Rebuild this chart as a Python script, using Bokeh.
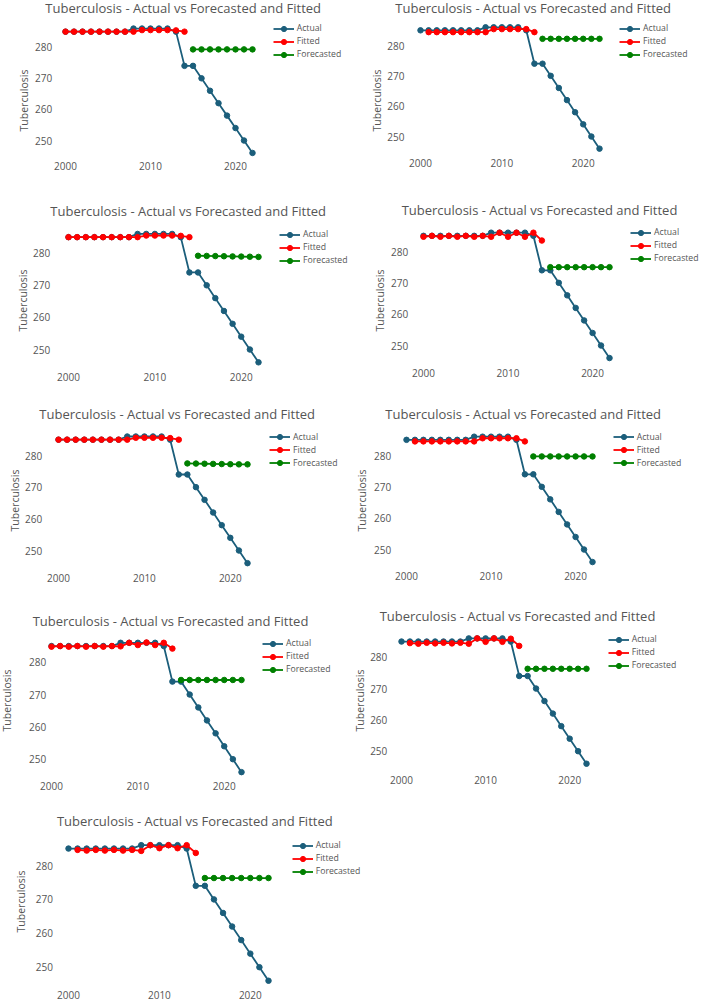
from bokeh.plotting import figure
from bokeh.layouts import column, row
from bokeh.models import FixedTicker, Legend, LegendItem, Range1d, Label
from bokeh.embed import file_html
from bokeh.resources import INLINE

# ---------------- data ----------------
years = list(range(2000, 2023))
actual = [285, 285, 285, 285, 285, 285, 285, 285,
          286, 286, 286, 286, 286,
          285, 274, 274, 270, 266, 262, 258, 254, 250, 246]

fit_years_a = list(range(2000, 2015))
fit_years_b = list(range(2001, 2015))
fc_years = list(range(2015, 2023))

fitted_1 = [285, 285, 285, 285, 285, 285, 285, 285, 285, 285.5, 285.5, 285.5, 285.5, 285.4, 285.0]
fitted_2 = [284.4, 284.4, 284.4, 284.4, 284.4, 284.4, 284.4, 284.4, 285.4, 285.4, 285.4, 285.4, 285.4, 284.4]
fitted_3 = [285, 285, 285, 285, 285, 285, 285, 285, 285, 285.5, 285.5, 285.5, 285.5, 285.4, 285.0]
fitted_4 = [284.7, 285.0, 284.7, 285.0, 284.7, 285.0, 284.7, 285.0, 284.7, 286.0, 284.7, 286.0, 284.7, 286.0, 283.5]
fitted_5 = [285, 285, 285, 285, 285, 285, 285, 285, 285, 285.6, 285.6, 285.6, 285.6, 285.5, 285.0]
fitted_6 = [284.5, 284.5, 284.5, 284.5, 284.5, 284.5, 284.5, 284.5, 285.5, 285.5, 285.5, 285.5, 285.5, 284.5]
fitted_7 = [284.8, 285.0, 284.8, 285.0, 284.8, 285.0, 284.8, 285.0, 284.9, 286.0, 285.3, 286.1, 285.3, 286.0, 284.2]
fitted_8 = [284.5, 284.3, 284.6, 284.4, 284.6, 284.4, 284.6, 284.3, 286.0, 284.9, 286.0, 284.9, 285.9, 283.6]
fitted_9 = [284.6, 284.4, 284.6, 284.4, 284.6, 284.4, 284.6, 284.3, 286.0, 285.1, 286.0, 285.1, 286.0, 283.7]

forecast_1 = [279.3] * 8
forecast_2 = [282.2] * 8
forecast_3 = [279.2, 279.15, 279.1, 279.05, 279.0, 278.95, 278.9, 278.85]
forecast_4 = [275.0] * 8
forecast_5 = [277.5, 277.45, 277.4, 277.35, 277.3, 277.25, 277.2, 277.2]
forecast_6 = [279.7] * 8
forecast_7 = [274.5] * 8
forecast_8 = [276.3] * 8
forecast_9 = [276.3] * 8

fitted_sets = [(fit_years_a, fitted_1), (fit_years_b, fitted_2), (fit_years_a, fitted_3),
               (fit_years_a, fitted_4), (fit_years_a, fitted_5), (fit_years_b, fitted_6),
               (fit_years_a, fitted_7), (fit_years_b, fitted_8), (fit_years_b, fitted_9)]
forecasts = [forecast_1, forecast_2, forecast_3, forecast_4, forecast_5,
             forecast_6, forecast_7, forecast_8, forecast_9]

title_text = "Tuberculosis - Actual vs Forecasted and Fitted"
y_title = "Tuberculosis"
x_ticks = [2000, 2010, 2020]
y_ticks = [250, 260, 270, 280]
labels = ["Actual", "Fitted", "Forecasted"]

# ---------------- layout (page pixel measurements) ----------------
cells = [(0, 0), (351, 0), (0, 200), (351, 200), (0, 400), (351, 400), (0, 600), (351, 600), (0, 800)]
cell_w = [351, 351, 351, 351, 351, 351, 351, 351, 400]
cell_h = [200, 200, 200, 200, 200, 200, 200, 200, 202]
px2000 = [65, 420, 68, 423, 58, 406, 51, 401, 68]
px2022 = [252, 599, 258, 609, 247, 592, 241, 586, 268]
py280 = [46.7, 45, 252.7, 251, 455, 455, 661.7, 656.7, 865]
py250 = [140, 136, 349, 345, 550, 549, 758.7, 750.7, 966.7]
tick_right = [52, 404, 50, 408, 42, 391, 46, 387, 52]
ylab_cx = [25, 379, 24, 381, 17, 363, 8, 361, 22]
xlab_cy = [168, 164, 378.3, 375, 580, 578, 788, 781.7, 996.7]
title_cx = [182.7, 532.7, 187.7, 539, 176.7, 522.7, 170, 517, 194.3]
title_cy = [7.5, 7.5, 210.7, 209.3, 413.3, 413, 620, 615.7, 820.7]
leg_x = [272.7, 619, 279, 630, 269, 612.7, 262, 607.7, 291.7]
leg_y = [28.3, 28.3, 234, 232, 436.7, 436.7, 643, 639, 845]

AX_X = 1999.5   # data x where the (invisible) y axis line sits
AX_Y = 245.0    # data y where the (invisible) x axis line sits
FONT = "Open Sans"
TXT = "#555555"
C_ACT = "#1b5e7b"
C_FIT = "#ff0000"
C_FC = "#008000"

TICK_FS = 10
TICK_W = 17
LAB_FS = 10.5
LAB_HALF = 9
TITLE_FS = "13px"
LEG_FS = "8.7px"
ROW_H = 13

figs = []
for i in range(9):
    cx, cy = cells[i]
    W, H = cell_w[i], cell_h[i]
    ppx = (px2022[i] - px2000[i]) / 22.0
    ppy = (py250[i] - py280[i]) / 30.0
    x_left = 2000 - (px2000[i] - cx) / ppx
    x_right = x_left + W / ppx
    y_bottom = 250 - (cy + H - py250[i]) / ppy
    y_top = y_bottom + H / ppy
    fl = px2000[i] + (AX_X - 2000) * ppx
    fb = py250[i] + (250 - AX_Y) * ppy

    p = figure(width=W, height=H, x_range=Range1d(x_left, x_right), y_range=Range1d(y_bottom, y_top),
               output_backend="svg", toolbar_location=None,
               min_border_left=0, min_border_right=0, min_border_top=0, min_border_bottom=0)
    p.outline_line_color = None
    p.grid.visible = False
    p.background_fill_color = "white"
    p.border_fill_color = "white"

    for ax in (p.xaxis[0], p.yaxis[0]):
        ax.axis_line_color = None
        ax.major_tick_line_color = None
        ax.minor_tick_line_color = None
        ax.major_tick_out = 0
        ax.major_tick_in = 0
        ax.major_label_text_font = FONT
        ax.major_label_text_font_size = f"{TICK_FS}px"
        ax.major_label_text_color = TXT
    p.xaxis.fixed_location = AX_Y
    p.yaxis.fixed_location = AX_X
    p.xaxis.ticker = FixedTicker(ticks=x_ticks)
    p.yaxis.ticker = FixedTicker(ticks=y_ticks)
    p.xaxis.major_label_standoff = max(1, int(round(xlab_cy[i] - 6 - fb)))
    ystand = max(1, int(round(fl - tick_right[i])))
    p.yaxis.major_label_standoff = ystand
    p.yaxis.axis_label = y_title
    p.yaxis.axis_label_text_font = FONT
    p.yaxis.axis_label_text_font_size = f"{LAB_FS}px"
    p.yaxis.axis_label_text_font_style = "normal"
    p.yaxis.axis_label_text_color = TXT
    tick_left = fl - ystand - TICK_W
    p.yaxis.axis_label_standoff = max(0, int(round(tick_left - (ylab_cx[i] + LAB_HALF))))

    p.add_layout(Label(x=title_cx[i] - cx, y=cy + H - title_cy[i], x_units="screen", y_units="screen",
                       text=title_text, text_align="center", text_baseline="middle",
                       text_font=FONT, text_font_size=TITLE_FS, text_color=TXT))

    fy, fv = fitted_sets[i]
    l1 = p.line(years, actual, line_color=C_ACT, line_width=1.8)
    s1 = p.scatter(years, actual, size=5.5, fill_color=C_ACT, line_color=C_ACT)
    l2 = p.line(fy, fv, line_color=C_FIT, line_width=1.8)
    s2 = p.scatter(fy, fv, size=5.5, fill_color=C_FIT, line_color=C_FIT)
    l3 = p.line(fc_years, forecasts[i], line_color=C_FC, line_width=1.8)
    s3 = p.scatter(fc_years, forecasts[i], size=5.5, fill_color=C_FC, line_color=C_FC)

    leg_bottom = leg_y[i] - ROW_H / 2 + 3 * ROW_H
    legend = Legend(items=[LegendItem(label=labels[0], renderers=[l1, s1]),
                           LegendItem(label=labels[1], renderers=[l2, s2]),
                           LegendItem(label=labels[2], renderers=[l3, s3])],
                    location=(leg_x[i] - cx, cy + H - leg_bottom),
                    padding=0, margin=0, spacing=0,
                    glyph_width=21, glyph_height=ROW_H, label_height=ROW_H,
                    label_standoff=3,
                    label_text_font=FONT, label_text_font_size=LEG_FS, label_text_color=TXT,
                    border_line_color=None, background_fill_alpha=0)
    p.add_layout(legend, "center")
    figs.append(p)

layout = column(row(figs[0], figs[1]), row(figs[2], figs[3]), row(figs[4], figs[5]),
                row(figs[6], figs[7]), row(figs[8]))

open("out.html", "w").write(file_html(layout, INLINE))
